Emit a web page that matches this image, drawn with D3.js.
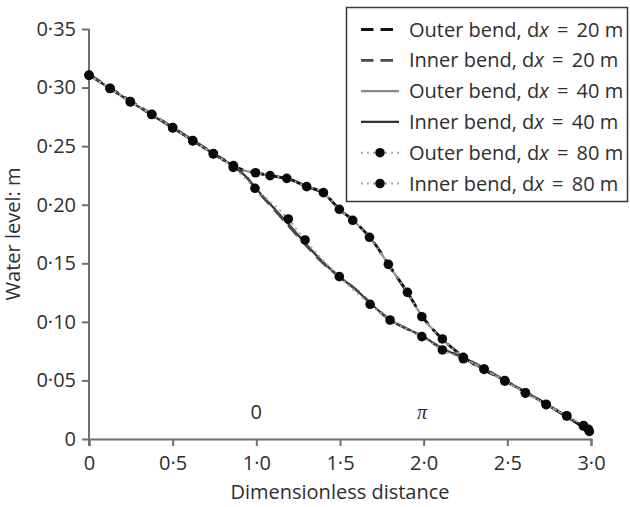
<!DOCTYPE html>
<html>
<head>
<meta charset="utf-8">
<script src="https://cdn.jsdelivr.net/npm/d3@7"></script>
<style>
  body { margin: 0; background: #fff; }
  svg { display: block; font-family: "Open Sans", "Noto Sans", sans-serif; }
</style>
</head>
<body>
<div id="chart"></div>
<script>
// values (dimensionless distance, water level in m)
var outer80X = [0, 0.126, 0.247, 0.375, 0.5, 0.62, 0.743, 0.863, 0.995, 1.082, 1.182, 1.301, 1.401, 1.496, 1.576, 1.676, 1.789, 1.903, 1.989, 2.112, 2.237, 2.361, 2.485, 2.608, 2.732, 2.855, 2.955, 2.985]
var outer80Y = [0.3107, 0.2994, 0.288, 0.2772, 0.2658, 0.2547, 0.2436, 0.2334, 0.2273, 0.2248, 0.2225, 0.2154, 0.2103, 0.1961, 0.1867, 0.1722, 0.1491, 0.1252, 0.1044, 0.0854, 0.0697, 0.0598, 0.0498, 0.0395, 0.0296, 0.0199, 0.0114, 0.0082]

var inner80X = [0, 0.126, 0.247, 0.375, 0.5, 0.62, 0.743, 0.862, 0.992, 1.191, 1.291, 1.496, 1.68, 1.799, 1.989, 2.112, 2.237, 2.361, 2.485, 2.608, 2.732, 2.855, 2.955, 2.99]
var inner80Y = [0.3105, 0.2992, 0.2878, 0.277, 0.2656, 0.2545, 0.2434, 0.2318, 0.214, 0.1878, 0.1699, 0.1386, 0.115, 0.1016, 0.0874, 0.076, 0.0685, 0.0594, 0.0494, 0.0392, 0.0293, 0.0196, 0.0111, 0.0065]

var outer40X = [0, 0.25, 0.5, 0.75, 0.9, 1.0, 1.1, 1.2, 1.3, 1.4, 1.5, 1.6, 1.7, 1.8, 1.9, 2.0, 2.1, 2.25, 2.5, 2.75, 3.0]
var outer40Y = [0.311, 0.2878, 0.2656, 0.243, 0.2305, 0.2268, 0.2242, 0.2214, 0.2152, 0.2098, 0.1956, 0.1838, 0.168, 0.1466, 0.1256, 0.1028, 0.0868, 0.0686, 0.0486, 0.0282, 0.0062]
var inner40X = [0, 0.25, 0.5, 0.75, 0.88, 0.95, 1.0, 1.1, 1.2, 1.3, 1.4, 1.5, 1.6, 1.7, 1.8, 1.9, 2.0, 2.1, 2.25, 2.5, 2.75, 3.0]
var inner40Y = [0.311, 0.2878, 0.2656, 0.243, 0.2312, 0.2222, 0.2135, 0.1978, 0.1822, 0.1658, 0.1508, 0.1382, 0.1268, 0.1135, 0.1016, 0.0942, 0.0872, 0.0782, 0.0686, 0.0486, 0.0282, 0.0062]

var outer20X = [0, 0.25, 0.5, 0.75, 0.9, 1.0, 1.1, 1.2, 1.3, 1.4, 1.5, 1.6, 1.7, 1.8, 1.9, 2.0, 2.1, 2.25, 2.5, 2.75, 3.0]
var outer20Y = [0.3112, 0.2882, 0.2659, 0.2432, 0.2308, 0.2272, 0.2246, 0.2218, 0.2156, 0.21, 0.1958, 0.184, 0.1682, 0.1468, 0.1258, 0.103, 0.087, 0.0688, 0.0487, 0.0283, 0.0060]
var inner20X = [0, 0.25, 0.5, 0.75, 0.88, 0.95, 1.0, 1.1, 1.2, 1.3, 1.4, 1.5, 1.6, 1.7, 1.8, 1.9, 2.0, 2.1, 2.25, 2.5, 2.75, 3.0]
var inner20Y = [0.3112, 0.2882, 0.2659, 0.2432, 0.2315, 0.222, 0.213, 0.197, 0.181, 0.165, 0.15, 0.138, 0.127, 0.1135, 0.1015, 0.094, 0.087, 0.078, 0.0688, 0.0487, 0.0283, 0.0060]

var seriesNames = ["Outer bend", "Inner bend", "Outer bend", "Inner bend", "Outer bend", "Inner bend"]
var seriesDx = [20, 20, 40, 40, 80, 80]

var xTicks = [0, 0.5, 1.0, 1.5, 2.0, 2.5, 3.0]
var yTicks = [0, 0.05, 0.10, 0.15, 0.20, 0.25, 0.30, 0.35]
var bendLabels = [{x: 1.0, text: "0"}, {x: 1.99, text: "\u03c0"}]

var width = 630,
    height = 507,
    textColor = "#2e2e2e",
    axisColor = "#6f6f6f"

var svg = d3.select("#chart").append("svg")
    .attr("width", width)
    .attr("height", height)

var x = d3.scaleLinear().domain([0, 3]).range([89, 591])
var y = d3.scaleLinear().domain([0, 0.35]).range([439, 29])

// the figure writes the decimal point as a middle dot
function dotFmt(digits) {
    return function (d) { return d === 0 ? "0" : d.toFixed(digits).replace(".", "\u00b7") }
}

var yAxis = svg.append("g")
    .attr("transform", "translate(" + x(0) + ",0)")
    .call(d3.axisLeft(y).tickValues(yTicks).tickSize(7).tickPadding(6).tickFormat(dotFmt(2)))

var xAxis = svg.append("g")
    .attr("transform", "translate(0," + y(0) + ")")
    .call(d3.axisBottom(x).tickValues(xTicks).tickSize(7).tickPadding(10).tickFormat(dotFmt(1)))

svg.selectAll(".domain").attr("stroke", axisColor).attr("stroke-width", 2)
svg.selectAll(".tick line").attr("stroke", axisColor).attr("stroke-width", 2)
svg.selectAll(".tick text")
    .attr("fill", textColor)
    .style("font-size", "20px")
    .style("font-family", "'Open Sans', sans-serif")
yAxis.select(".domain").attr("d", "M0," + y(0.35) + "V" + (y(0) + 7))

svg.append("text")
    .attr("x", x(1.5))
    .attr("y", 499)
    .attr("text-anchor", "middle")
    .attr("fill", textColor)
    .style("font-size", "20px")
    .text("Dimensionless distance")

svg.append("text")
    .attr("transform", "translate(20," + y(0.175) + ") rotate(-90)")
    .attr("text-anchor", "middle")
    .attr("fill", textColor)
    .style("font-size", "20px")
    .text("Water level: m")

svg.selectAll(".bendlabel")
    .data(bendLabels)
    .enter().append("text")
    .attr("class", "bendlabel")
    .attr("x", function (d) { return x(d.x) })
    .attr("y", 419)
    .attr("text-anchor", "middle")
    .attr("fill", textColor)
    .style("font-size", "20px")
    .style("font-family", function (d) { return d.text === "0" ? "'Open Sans', sans-serif" : "'Liberation Serif', serif" })
    .style("font-style", function (d) { return d.text === "0" ? "normal" : "italic" })
    .text(function (d) { return d.text })

function pts(xs, ys) {
    return xs.map(function (v, i) { return [v, ys[i]] })
}

var series = [
    {pts: pts(outer20X, outer20Y), stroke: "#111", width: 2.8, dash: "14,7"},
    {pts: pts(inner20X, inner20Y), stroke: "#4a4a4a", width: 2.8, dash: "14,7"},
    {pts: pts(outer40X, outer40Y), stroke: "#8a8a8a", width: 2.2, dash: null},
    {pts: pts(inner40X, inner40Y), stroke: "#333", width: 2.2, dash: null},
    {pts: pts(outer80X, outer80Y), stroke: "#a8a8a8", width: 2, dash: "2,4", dots: true},
    {pts: pts(inner80X, inner80Y), stroke: "#a8a8a8", width: 2, dash: "2,4", dots: true}
]

var line = d3.line()
    .x(function (d) { return x(d[0]) })
    .y(function (d) { return y(d[1]) })
    .curve(d3.curveMonotoneX)

// solid and dashed runs first, then the dotted dx = 80 runs with markers on top
var drawOrder = [2, 3, 0, 1, 4, 5]
drawOrder.forEach(function (i) {
    var s = series[i]
    svg.append("path")
        .datum(s.pts)
        .attr("d", line)
        .attr("fill", "none")
        .attr("stroke", s.stroke)
        .attr("stroke-width", s.width)
        .attr("stroke-dasharray", s.dash)
})
series.filter(function (s) { return s.dots }).forEach(function (s) {
    svg.append("g").selectAll("circle")
        .data(s.pts)
        .enter().append("circle")
        .attr("cx", function (d) { return x(d[0]) })
        .attr("cy", function (d) { return y(d[1]) })
        .attr("r", 4.8)
        .attr("fill", "#0a0a0a")
})

// legend
var legend = svg.append("g")
legend.append("rect")
    .attr("x", 346.5).attr("y", 7.5)
    .attr("width", 281).attr("height", 194)
    .attr("fill", "#fff")
    .attr("stroke", "#3a3a3a")
    .attr("stroke-width", 1.5)

var rows = legend.selectAll(".row")
    .data(series)
    .enter().append("g")
    .attr("class", "row")
    .attr("transform", function (d, i) { return "translate(0," + (29.5 + i * 30.8) + ")" })

rows.append("line")
    .attr("x1", 361).attr("x2", function (d) { return d.dash && !d.dots ? 397 : 399 })
    .attr("stroke", function (d) { return d.stroke })
    .attr("stroke-width", function (d) { return d.width })
    .attr("stroke-dasharray", function (d) { return d.dash ? (d.dots ? "2,4" : "12.5,7") : null })
rows.filter(function (d) { return d.dots }).append("circle")
    .attr("cx", 380).attr("r", 4.8).attr("fill", "#0a0a0a")

var labels = rows.append("text")
    .attr("x", 409)
    .attr("y", 7)
    .attr("fill", textColor)
    .style("font-size", "20px")
labels.append("tspan").text(function (d, i) { return seriesNames[i] + ", d" })
labels.append("tspan").style("font-style", "italic").text("x")
labels.append("tspan").attr("dx", 3).text(" =")
labels.append("tspan").attr("dx", 3).text(function (d, i) { return " " + seriesDx[i] + " m" })
</script>
</body>
</html>
